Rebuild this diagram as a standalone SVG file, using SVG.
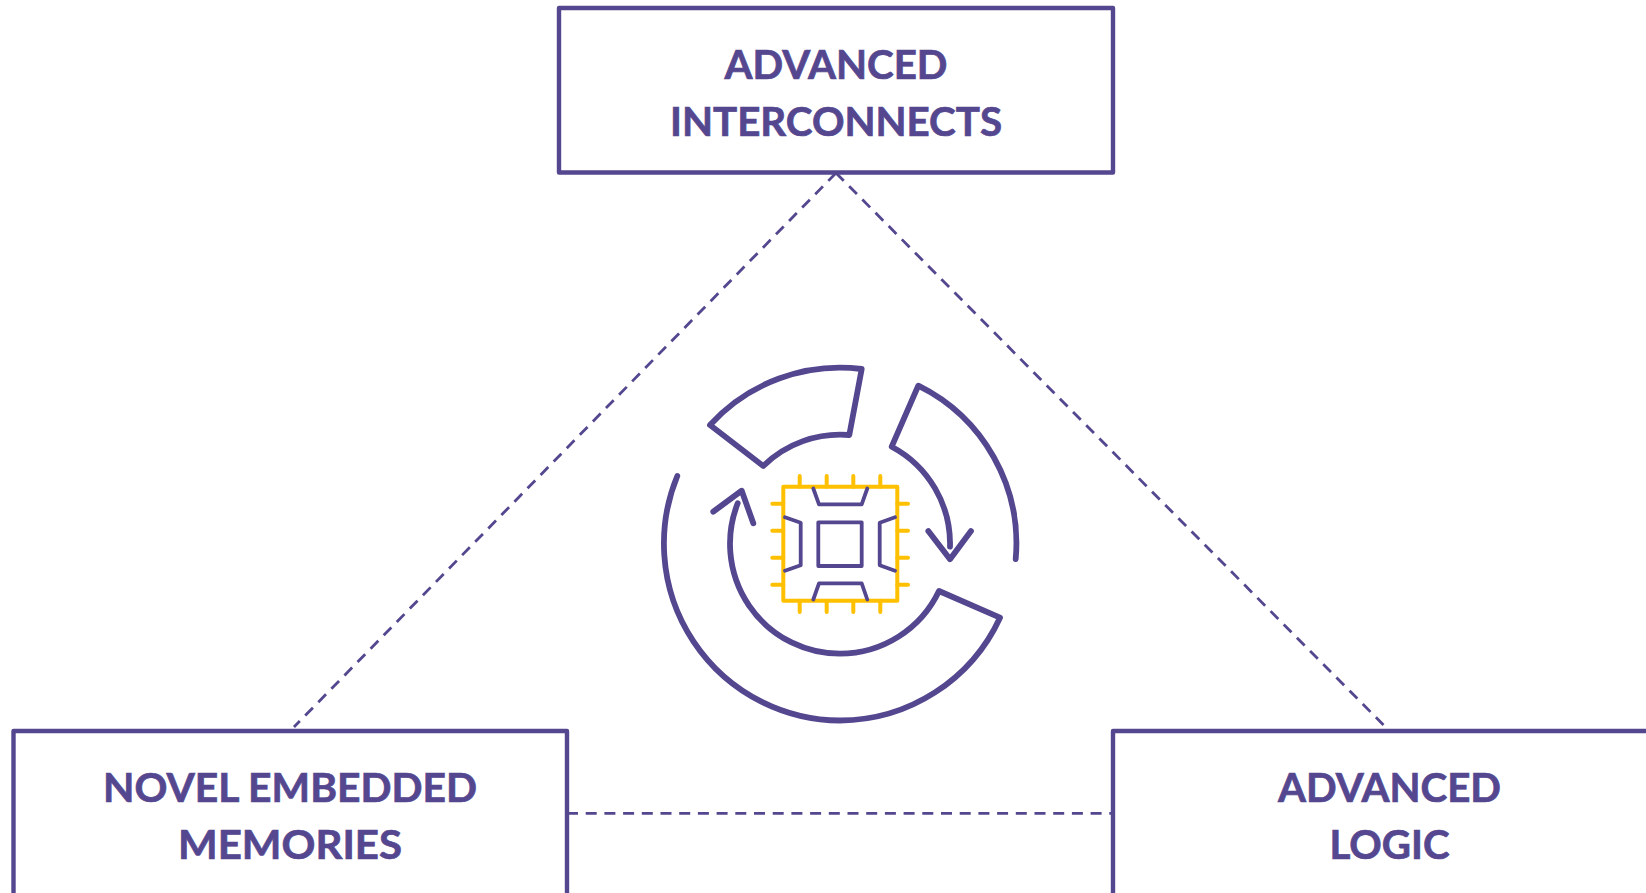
<svg xmlns="http://www.w3.org/2000/svg" width="1646" height="893" viewBox="0 0 1646 893">
<style>
.box{fill:#fff;stroke:#54478F;stroke-width:4.4;stroke-linejoin:round}
.lbl{font-family:"Lato","Liberation Sans",sans-serif;font-weight:700;font-size:41px;fill:#54478F;stroke:#54478F;stroke-width:.7;text-anchor:middle}
.dash{fill:none;stroke:#54478F;stroke-width:2.8;stroke-dasharray:11 7.7}
.ic{fill:none;stroke:#54478F;stroke-width:5.8;stroke-linecap:round;stroke-linejoin:round}
.ci{fill:none;stroke:#54478F;stroke-width:3.8;stroke-linecap:round;stroke-linejoin:round}
.ye{fill:none;stroke:#FFC000;stroke-width:4;stroke-linecap:round;stroke-linejoin:round}
</style>
<g id="connectors">
<path class="dash" d="M836 173L294 727"/>
<path class="dash" d="M836 173L1383.5 725"/>
<path class="dash" d="M567 813.3H1113"/>
</g>
<g id="node-interconnects">
<rect class="box" x="559" y="8" width="554" height="164.5"/>
<text class="lbl" x="836" y="79" textLength="223" lengthAdjust="spacingAndGlyphs">ADVANCED</text>
<text class="lbl" x="836" y="136" textLength="332" lengthAdjust="spacingAndGlyphs">INTERCONNECTS</text>
</g>
<g id="node-memories">
<rect class="box" x="13.5" y="731" width="553.5" height="200"/>
<text class="lbl" x="290" y="802" textLength="374" lengthAdjust="spacingAndGlyphs">NOVEL EMBEDDED</text>
<text class="lbl" x="290" y="859" textLength="224" lengthAdjust="spacingAndGlyphs">MEMORIES</text>
</g>
<g id="node-logic">
<rect class="box" x="1113" y="731" width="600" height="200"/>
<text class="lbl" x="1389.5" y="802" textLength="223" lengthAdjust="spacingAndGlyphs">ADVANCED</text>
<text class="lbl" x="1389.5" y="859" textLength="120" lengthAdjust="spacingAndGlyphs">LOGIC</text>
</g>
<g id="node-cycle-icon">
<path class="ic" d="M710 425A176 176 0 0 1 861.7 369L849.3 435A110 110 0 0 0 763.3 466Z"/>
<path class="ic" d="M1015.7 559A176 176 0 0 0 918.3 385.7L891.7 446.7A110 110 0 0 1 950 546.7"/>
<path class="ic" d="M928.3 531L950 559.3L971 531"/>
<path class="ic" d="M677.3 476A177 177 0 0 0 840 720.5A177 177 0 0 0 1000 617.7L939 591A110 110 0 0 1 840 653.7A110 110 0 0 1 737.7 503.3"/>
<path class="ic" d="M713.3 511.7L741.7 490.7L753.3 523.3"/>
</g>
<g id="node-chip">
<rect class="ye" x="783.3" y="486.7" width="114" height="114"/>
<path class="ye" d="M799.7 476V486.7M826.7 476V486.7M853.3 476V486.7M880.3 476V486.7M799.7 600.7V612M826.7 600.7V612M853.3 600.7V612M880.3 600.7V612M772.3 503.7H783.3M772.3 530.7H783.3M772.3 557.7H783.3M772.3 584.7H783.3M897.3 503.7H908M897.3 530.7H908M897.3 557.7H908M897.3 584.7H908"/>
<rect class="ci" x="818.3" y="522.3" width="43.4" height="43.7"/>
<path class="ci" d="M813.3 488.5L819 504.3H861.7L867.3 488.5M813.3 599.5L819 583.3H861.7L867.3 599.5M785 517.3L800.7 522.7V565.3L785 570.7M895 517.3L879.7 522.7V565.3L895 570.7"/>
</g>
</svg>
